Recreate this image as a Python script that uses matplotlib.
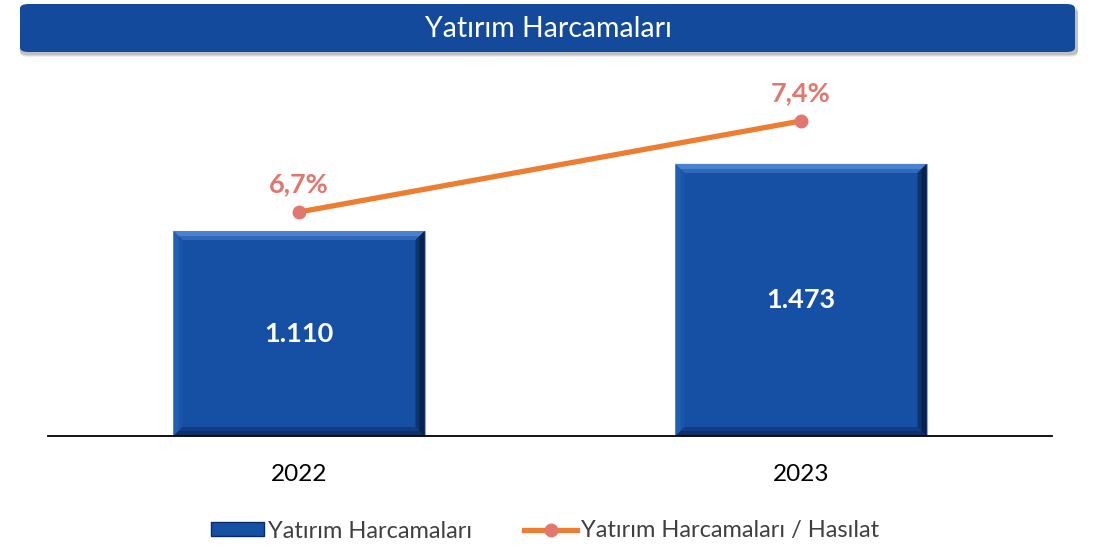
import matplotlib.pyplot as plt
from matplotlib.patches import FancyBboxPatch, Polygon, Patch
from matplotlib.lines import Line2D

plt.rcParams['font.family'] = ['Lato', 'DejaVu Sans']

years = ['2022', '2023']
harcama = [1110, 1473]
oran = [6.7, 7.4]
harcama_labels = ['1.110', '1.473']
oran_labels = ['6,7%', '7,4%']

bar_color = '#1650A5'
line_color = '#ED7D31'
marker_color = '#E27770'
title_blue = '#134A9B'

fig = plt.figure(figsize=(10.99, 5.47), dpi=100)

# title banner with soft shadow
for k, a in [(5, 0.15), (4, 0.2), (3, 0.25)]:
    shadow = FancyBboxPatch((20 / 1099, 1 - (52 + k) / 547), 1058 / 1099, 48 / 547,
                            boxstyle='round,pad=0,rounding_size=0.008',
                            transform=fig.transFigure, facecolor='#808080',
                            edgecolor='none', alpha=a, zorder=0)
    fig.patches.append(shadow)
banner = FancyBboxPatch((20 / 1099, 1 - 52 / 547), 1055 / 1099, 48 / 547,
                        boxstyle='round,pad=0,rounding_size=0.008',
                        transform=fig.transFigure, facecolor=title_blue,
                        edgecolor='none', zorder=1)
fig.patches.append(banner)
fig.text(548 / 1099, 1 - 29 / 547, 'Yatırım Harcamaları', color='white',
         fontsize=20.5, ha='center', va='center')

ax = fig.add_axes([48 / 1099, 1 - 436 / 547, 1004 / 1099, 376 / 547])
x = range(len(years))
bars = ax.bar(x, harcama, width=0.5, color=bar_color, edgecolor='#9aa8bd',
              linewidth=0.8, zorder=2)
ax.set_xlim(-0.5, 1.5)
ax.set_ylim(0, 376 / (205 / 1110))
ax.set_xticks(list(x))
ax.set_xticklabels(years, fontsize=17.5, color='black')
ax.tick_params(axis='x', length=0, pad=20)
ax.set_yticks([])
for s in ['top', 'left', 'right']:
    ax.spines[s].set_visible(False)
ax.spines['bottom'].set_linewidth(1.3)
ax.spines['bottom'].set_color('black')
ax.spines['bottom'].set_zorder(5)

# bevel look on the bars
inv = ax.transData.inverted()
for bar in bars:
    x0, y0 = ax.transData.transform((bar.get_x(), 0))
    x1, y1 = ax.transData.transform((bar.get_x() + bar.get_width(), bar.get_height()))
    for b, shade in [(9, 0), (5, 1)]:
        if shade == 0:
            cols = ['#2F69BA', '#1A55A8', '#0E3470', '#103D82']
        else:
            cols = ['#4A82CF', '#2260B3', '#08224A', '#0C3168']
        bands = [
            ([(x0, y1), (x1, y1), (x1 - b, y1 - b), (x0 + b, y1 - b)], cols[0]),
            ([(x0, y0), (x0, y1), (x0 + b, y1 - b), (x0 + b, y0 + b)], cols[1]),
            ([(x1, y0), (x1, y1), (x1 - b, y1 - b), (x1 - b, y0 + b)], cols[2]),
            ([(x0, y0), (x1, y0), (x1 - b, y0 + b), (x0 + b, y0 + b)], cols[3]),
        ]
        for pts, c in bands:
            ax.add_patch(Polygon(inv.transform(pts), closed=True, facecolor=c,
                                 edgecolor='none', zorder=3))

for i, lab in enumerate(harcama_labels):
    ax.text(i, harcama[i] / 2, lab, color='white', fontsize=19.5,
            fontweight='bold', ha='center', va='center', zorder=4)

ax2 = ax.twinx()
ax2.set_ylim(6.7 - 224 / 130, 6.7 + 152 / 130)
ax2.plot(list(x), oran, color=line_color, linewidth=3.8, marker='o',
         markersize=9, markerfacecolor=marker_color,
         markeredgecolor=marker_color, zorder=5)
for i, lab in enumerate(oran_labels):
    ax2.annotate(lab, (i, oran[i]), xytext=(0, 20), textcoords='offset points',
                 color=marker_color, fontsize=19.5, fontweight='bold',
                 ha='center', va='center')
ax2.axis('off')

handles = [Patch(facecolor=bar_color, edgecolor='#0B2C63'),
           Line2D([0], [0], color=line_color, linewidth=3.8, marker='o',
                  markersize=9, markerfacecolor=marker_color,
                  markeredgecolor=marker_color)]
fig.legend(handles, ['Yatırım Harcamaları', 'Yatırım Harcamaları / Hasılat'],
           loc='center', bbox_to_anchor=(545 / 1099, 1 - 531 / 547), ncol=2,
           frameon=False, fontsize=17, labelcolor='#404040',
           handlelength=2.25, handletextpad=0.17, columnspacing=2.2,
           handleheight=0.5)

fig.savefig('out.png', dpi=100)
